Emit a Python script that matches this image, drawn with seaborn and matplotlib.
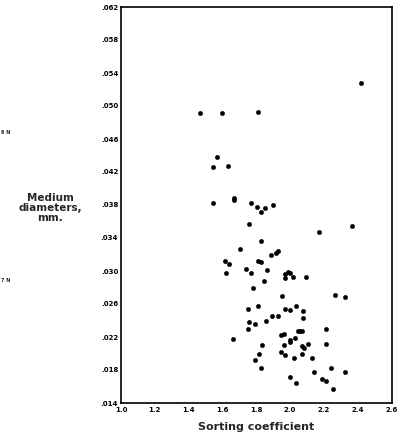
import matplotlib
matplotlib.use("Agg")
import matplotlib.pyplot as plt
import seaborn as sns
import pandas as pd
import numpy as np
from matplotlib.ticker import MultipleLocator, FixedLocator

sorting = [1.469, 1.598, 1.811, 2.418, 1.570, 1.544, 1.631, 1.546, 1.671, 1.671,
           1.766, 1.803, 1.831, 1.851, 1.898, 1.757, 2.171, 2.369, 1.826, 1.702,
           1.613, 1.637, 1.811, 1.831, 1.886, 1.916, 1.930, 1.621, 1.740, 1.766,
           1.861, 1.847, 1.783, 1.973, 1.987, 2.000, 2.015, 1.969, 2.094, 1.955,
           2.268, 2.325, 1.752, 1.813, 1.973, 2.001, 2.033, 2.076, 2.078, 1.758,
           1.791, 1.857, 1.894, 1.927, 1.752, 2.211, 1.661, 1.946, 1.966, 2.046,
           2.060, 2.072, 2.031, 1.998, 2.001, 2.104, 2.213, 1.835, 1.963, 2.068,
           2.084, 1.944, 1.971, 1.817, 2.072, 2.021, 1.791, 2.127, 1.831, 2.245,
           2.325, 2.141, 1.997, 2.190, 2.212, 2.033, 2.256]
diameter = [.0492, .0491, .0493, .0528, .0438, .0426, .0427, .0383, .0389, .0386,
            .0383, .0378, .0372, .0376, .0380, .0357, .0347, .0354, .0336, .0327,
            .0312, .0308, .0312, .0311, .0320, .0322, .0324, .0298, .0302, .0298,
            .0301, .0288, .0279, .0296, .0299, .0298, .0293, .0292, .0293, .0270,
            .0271, .0268, .0254, .0257, .0254, .0253, .0257, .0251, .0243, .0238,
            .0236, .0240, .0245, .0246, .0230, .0230, .0217, .0222, .0224, .0227,
            .0227, .0227, .0219, .0216, .0214, .0212, .0211, .0210, .0210, .0209,
            .0207, .0202, .0198, .0199, .0199, .0195, .0192, .0194, .0183, .0182,
            .0178, .0177, .0171, .0169, .0167, .0164, .0157]

x_ticks = [1.0, 1.2, 1.4, 1.6, 1.8, 2.0, 2.2, 2.4, 2.6]
x_tick_labels = ["1.0", "1.2", "1.4", "1.6", "1.8", "2.0", "2.2", "2.4", "2.6"]
y_ticks = [.014, .018, .022, .026, .030, .034, .038, .042, .046, .050, .054, .058, .062]
y_tick_labels = [".014", ".018", ".022", ".026", ".030", ".034", ".038", ".042",
                 ".046", ".050", ".054", ".058", ".062"]

df = pd.DataFrame({"sorting": sorting, "diameter": diameter})

sns.set_style("white")
plt.rcParams['font.family'] = ['DejaVu Sans']

fig = plt.figure(figsize=(3.98, 4.38), dpi=100)
ax = fig.add_axes([121/398, 1 - 403/438, (391.5 - 121)/398, (403 - 7)/438])

sns.scatterplot(data=df, x="sorting", y="diameter", ax=ax, color="black",
                s=10, edgecolor="black", linewidth=0.3)

ax.set_xlim(1.0, 2.6)
ax.set_ylim(.014, .062)
ax.xaxis.set_major_locator(FixedLocator(x_ticks))
ax.set_xticklabels(x_tick_labels, fontsize=5, fontweight="bold")
ax.xaxis.set_minor_locator(MultipleLocator(0.05))
ax.yaxis.set_major_locator(FixedLocator(y_ticks))
ax.set_yticklabels(y_tick_labels, fontsize=5, fontweight="bold")
ax.yaxis.set_minor_locator(MultipleLocator(0.002))

ax.tick_params(axis="both", which="major", direction="in", length=4, width=0.8,
               colors="black", pad=2)
ax.tick_params(axis="both", which="minor", direction="in", length=2.5, width=0.6,
               colors="black")
ax.tick_params(axis="x", which="major", pad=3)

for sp in ax.spines.values():
    sp.set_visible(True)
    sp.set_color("black")
    sp.set_linewidth(1.2)

ax.set_xlabel("Sorting coefficient", fontsize=8, fontweight="bold", labelpad=6)
ax.set_ylabel("")

fig.text(50/398, 1 - 208/438, "Medium\ndiameters,\nmm.", ha="center", va="center",
         fontsize=7.5, fontweight="bold", linespacing=1.0)
fig.text(1/398, 1 - 132/438, "8 N", ha="left", va="center", fontsize=3.5, fontweight="bold")
fig.text(1/398, 1 - 281/438, "7 N", ha="left", va="center", fontsize=3.5, fontweight="bold")

fig.savefig("out.png", dpi=100)
